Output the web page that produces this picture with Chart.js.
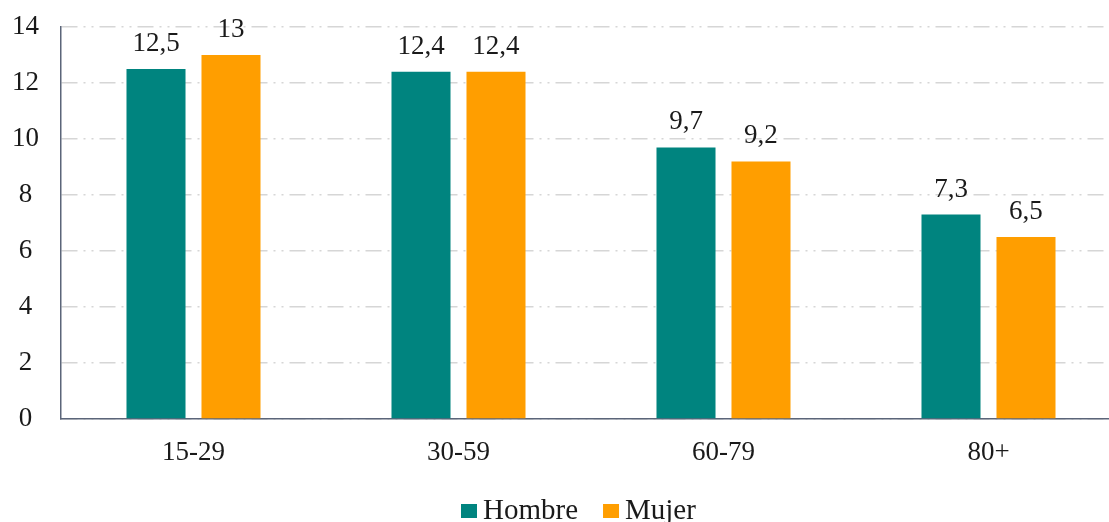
<!DOCTYPE html>
<html><head><meta charset="utf-8">
<script src="https://cdn.jsdelivr.net/npm/chart.js@4.4.1/dist/chart.umd.min.js"></script>
<style>html,body{margin:0;padding:0;overflow:hidden;background:#fff}canvas{display:block}</style>
</head><body>
<canvas id="c" width="1121" height="530"></canvas>
<script>
const categories = ['15-29','30-59','60-79','80+'];
const hombre = [12.5, 12.4, 9.7, 7.3];
const mujer = [13, 12.4, 9.2, 6.5];
const yTicks = [0,2,4,6,8,10,12,14];
const FONT = "'Liberation Serif', 'Times New Roman', serif";

const labelPlugin = {
  id: 'valLabels',
  afterDatasetsDraw(chart) {
    const ctx = chart.ctx;
    ctx.save();
    ctx.font = '27px ' + FONT;
    ctx.fillStyle = '#1a1a1a';
    ctx.textAlign = 'center';
    ctx.textBaseline = 'alphabetic';
    chart.data.datasets.forEach((ds, i) => {
      chart.getDatasetMeta(i).data.forEach((bar, j) => {
        ctx.fillText(String(ds.data[j]).replace('.', ','), bar.x, bar.y - 18);
      });
    });
    ctx.restore();
  }
};

const legendPlugin = {
  id: 'customLegend',
  afterDraw(chart) {
    const ctx = chart.ctx;
    ctx.save();
    ctx.font = '29px ' + FONT;
    ctx.textBaseline = 'alphabetic';
    ctx.textAlign = 'left';
    let x = 461;
    const base = 519;
    chart.data.datasets.forEach(ds => {
      ctx.fillStyle = ds.backgroundColor;
      ctx.fillRect(x, base - 15, 16, 14);
      ctx.fillStyle = '#1a1a1a';
      ctx.fillText(ds.label, x + 22, base);
      x += 22 + ctx.measureText(ds.label).width + 25;
    });
    ctx.restore();
  }
};

new Chart(document.getElementById('c'), {
  type: 'bar',
  data: {
    labels: categories,
    datasets: [
      {label: 'Hombre', data: hombre, backgroundColor: '#00847F', categoryPercentage: 0.566, barPercentage: 0.787},
      {label: 'Mujer', data: mujer, backgroundColor: '#FF9E00', categoryPercentage: 0.566, barPercentage: 0.787}
    ]
  },
  options: {
    responsive: false,
    animation: false,
    devicePixelRatio: 1,
    layout: {padding: {top: 27, left: 0, right: 0, bottom: 51}},
    plugins: {
      tooltip: {enabled: false},
      legend: {display: false}
    },
    scales: {
      x: {
        grid: {display: false},
        border: {color: '#5b6579', width: 1.5},
        ticks: {font: {family: FONT, size: 27}, color: '#1a1a1a', padding: 10},
        afterFit(s) { s.height = 60; s.paddingLeft = 0; s.paddingRight = 0; }
      },
      y: {
        min: 0, max: 14,
        afterBuildTicks(s) { s.ticks = yTicks.map(v => ({value: v})); },
        grid: {color: '#d6d6d6', lineWidth: 1.5, drawTicks: false},
        border: {color: '#5b6579', width: 1.5, dash: [16, 6, 2, 6, 2, 6]},
        ticks: {font: {family: FONT, size: 27}, color: '#1a1a1a', padding: 22, crossAlign: 'center'},
        afterFit(s) { s.width = 61; s.paddingTop = 0; s.paddingBottom = 0; }
      }
    }
  },
  plugins: [labelPlugin, legendPlugin]
});
</script>
</body></html>
